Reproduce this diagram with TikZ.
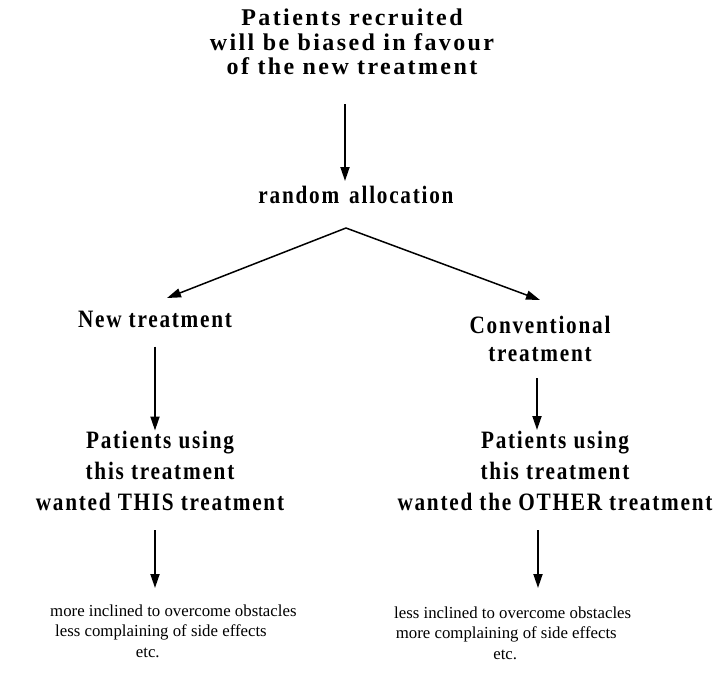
\documentclass[tikz,border=0pt]{standalone}
\usepackage{fontspec}
\setmainfont{Liberation Serif}
\newfontfamily\titlefont[LetterSpace=10]{Liberation Serif}
\newfontfamily\midfont[LetterSpace=7,FakeStretch=0.85]{Liberation Serif}
\usetikzlibrary{arrows.meta}
\begin{document}
\begin{tikzpicture}[x=1pt,y=-1pt,
  every node/.style={inner sep=0pt,align=center},
  ttl/.style={font=\titlefont\bfseries\fontsize{24}{24.5}\selectfont},
  mid/.style={font=\midfont\bfseries\fontsize{25}{31}\selectfont},
  low/.style={font=\fontsize{16.8}{20.5}\selectfont,align=left,anchor=west},
  arr/.style={line width=1.8pt,-{Triangle[length=14pt,width=9pt]}},
  darr/.style={line width=1.5pt,-{Triangle[length=14pt,width=9pt]}}]
\useasboundingbox (0,0) rectangle (726,673);
\node[ttl] (top) at (352,42) {Patients recruited\\will be biased in favour\\of the new treatment};
\node[mid] (rand) at (356,195) {random\hspace{0.4em}allocation};
\coordinate (apex) at (346,228);
\node[mid] (newt) at (155,319) {New treatment};
\node[mid] (conv) at (540,339) {Conventional\\[-3pt]treatment};
\node[mid] (pl) at (160,471) {Patients using\\this treatment\\wanted THIS treatment};
\node[mid] (pr) at (555,471) {Patients using\\this treatment\\wanted the OTHER treatment};
\node[low] (bl) at (50,631) {more inclined to overcome obstacles\\\hspace*{0.3em}less complaining of side effects\\\hspace*{5.1em}etc.};
\node[low] (br) at (394,633) {less inclined to overcome obstacles\\\hspace*{0.1em}more complaining of side effects\\\hspace*{5.9em}etc.};
\coordinate (a1) at (345,104);
\coordinate (a1e) at (345,181);
\draw[arr] (a1) -- (a1e);
\coordinate (lt) at (167,298);
\coordinate (rt) at (540,300);
\draw[darr] (apex) -- (lt);
\draw[darr] (apex) -- (rt);
\draw[arr] (newt.south -| 155,0) ++(0,19) -- ++(0,84);
\draw[arr] (conv.south -| 537,0) ++(0,16) -- ++(0,52);
\draw[arr] (pl.south -| 155,0) ++(0,19) -- ++(0,58);
\draw[arr] (pr.south -| 538,0) ++(0,19) -- ++(0,58);
\end{tikzpicture}
\end{document}
